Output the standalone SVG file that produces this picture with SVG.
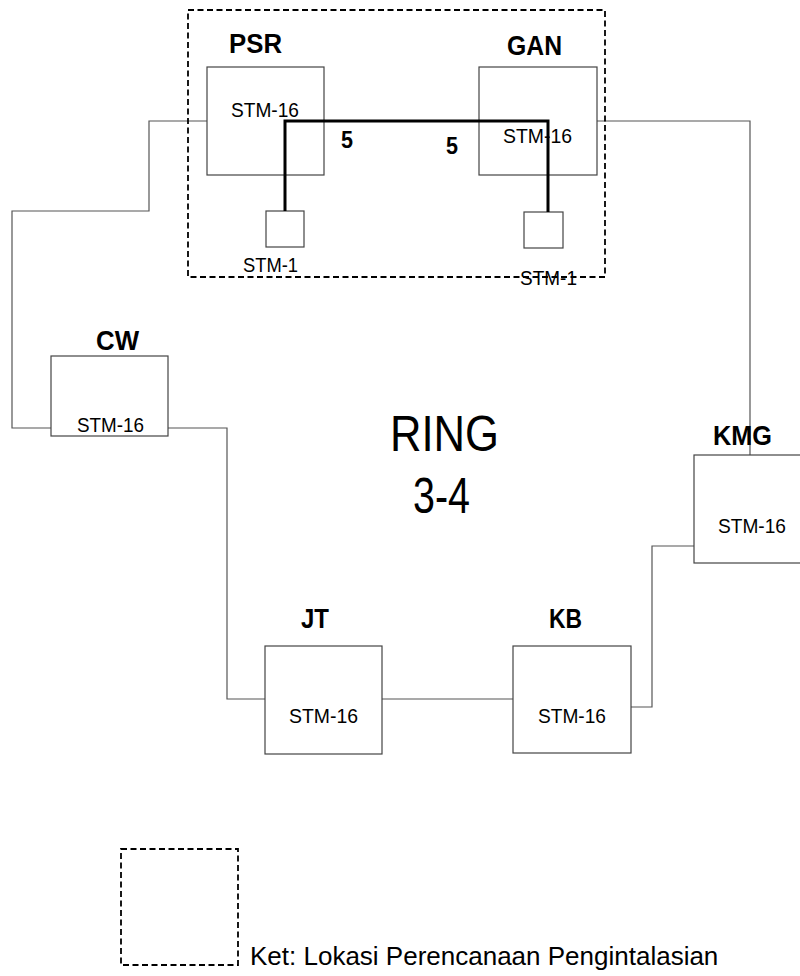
<svg xmlns="http://www.w3.org/2000/svg" width="800" height="976" viewBox="0 0 800 976">
<style>
text{font-family:"Liberation Sans",Arial,Helvetica,sans-serif;fill:#000}
.lbl{font-size:27px;font-weight:bold}
.stm{font-size:21px}
.five{font-size:23px;font-weight:bold}
.ring{font-size:50px}
.ket{font-size:26px}
.box{fill:#fff;stroke:#444;stroke-width:1.2}
.conn{fill:none;stroke:#555;stroke-width:1.2}
.thick{fill:none;stroke:#000;stroke-width:3}
.dash{fill:none;stroke:#000;stroke-width:1.8;stroke-dasharray:6 3.5}
</style>
<rect width="800" height="976" fill="#fff"/>
<g id="connectors">
<path class="conn" d="M207,121 H149 V211 H12 V428 H51"/>
<path class="conn" d="M168,428 H227 V699 H265"/>
<path class="conn" d="M382,699 H513"/>
<path class="conn" d="M631,707 H652 V546 H694"/>
<path class="conn" d="M597,121 H750 V455"/>
</g>
<g id="PSR">
<rect class="box" x="207" y="67" width="117" height="108"/>
<text class="lbl" x="229" y="53" textLength="53" lengthAdjust="spacingAndGlyphs">PSR</text>
<text class="stm" x="231" y="117" textLength="68" lengthAdjust="spacingAndGlyphs">STM-16</text>
</g>
<g id="GAN">
<rect class="box" x="479" y="67" width="118" height="108"/>
<text class="lbl" x="507" y="55" textLength="55" lengthAdjust="spacingAndGlyphs">GAN</text>
<text class="stm" x="503" y="143" textLength="69" lengthAdjust="spacingAndGlyphs">STM-16</text>
</g>
<g id="PSR-STM1">
<rect class="box" x="266" y="211" width="38" height="36"/>
<text class="stm" x="243" y="272" textLength="55" lengthAdjust="spacingAndGlyphs">STM-1</text>
</g>
<g id="GAN-STM1">
<rect class="box" x="524" y="212" width="39" height="36"/>
<text class="stm" x="520" y="285" textLength="57" lengthAdjust="spacingAndGlyphs">STM-1</text>
</g>
<g id="CW">
<rect class="box" x="51" y="356" width="117" height="80"/>
<text class="lbl" x="96" y="350" textLength="43" lengthAdjust="spacingAndGlyphs">CW</text>
<text class="stm" x="77" y="432" textLength="67" lengthAdjust="spacingAndGlyphs">STM-16</text>
</g>
<g id="KMG">
<rect class="box" x="694" y="455" width="120" height="108"/>
<text class="lbl" x="713" y="445" textLength="59" lengthAdjust="spacingAndGlyphs">KMG</text>
<text class="stm" x="718" y="533" textLength="68" lengthAdjust="spacingAndGlyphs">STM-16</text>
</g>
<g id="JT">
<rect class="box" x="265" y="646" width="117" height="108"/>
<text class="lbl" x="301" y="628" textLength="28" lengthAdjust="spacingAndGlyphs">JT</text>
<text class="stm" x="289" y="723" textLength="69" lengthAdjust="spacingAndGlyphs">STM-16</text>
</g>
<g id="KB">
<rect class="box" x="513" y="646" width="118" height="107"/>
<text class="lbl" x="549" y="628" textLength="33" lengthAdjust="spacingAndGlyphs">KB</text>
<text class="stm" x="538" y="723" textLength="68" lengthAdjust="spacingAndGlyphs">STM-16</text>
</g>
<g id="link-5">
<path class="thick" d="M285,211 V121 H548 V212"/>
<text class="five" x="341" y="148" textLength="12" lengthAdjust="spacingAndGlyphs">5</text>
<text class="five" x="446" y="154" textLength="12" lengthAdjust="spacingAndGlyphs">5</text>
</g>
<g id="planned-area">
<rect class="dash" x="188" y="10" width="417" height="267"/>
</g>
<g id="ring-label">
<text class="ring" x="390" y="451" textLength="109" lengthAdjust="spacingAndGlyphs">RING</text>
<text class="ring" x="413" y="513" textLength="57" lengthAdjust="spacingAndGlyphs">3-4</text>
</g>
<g id="legend">
<rect class="dash" x="121" y="849" width="117" height="116"/>
<text class="ket" x="250" y="965">Ket: Lokasi Perencanaan Pengintalasian</text>
</g>
</svg>
